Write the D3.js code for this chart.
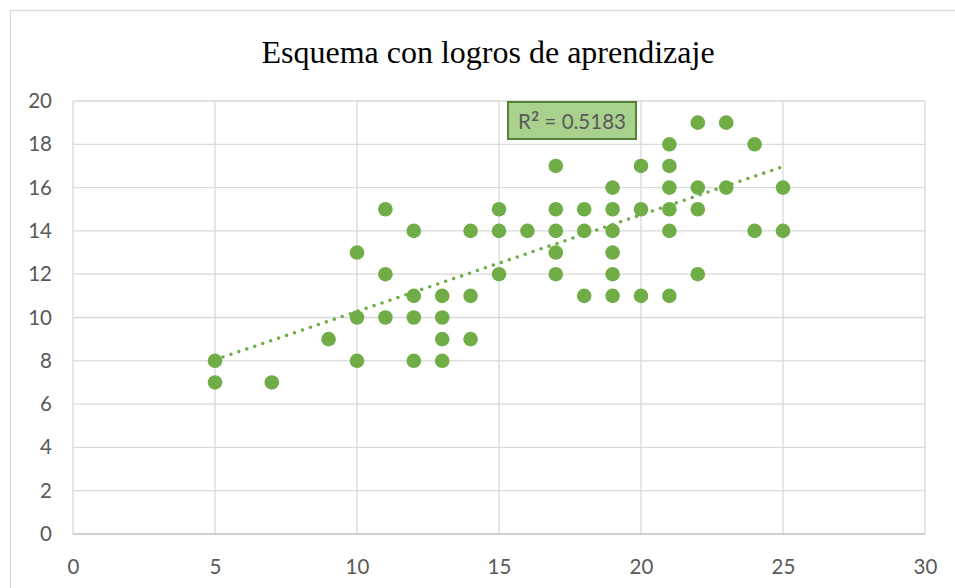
<!DOCTYPE html>
<html>
<head>
<meta charset="utf-8">
<script src="https://cdn.jsdelivr.net/npm/d3@7"></script>
<style>
  html, body { margin: 0; padding: 0; background: #fff; }
  svg { display: block; }
</style>
</head>
<body>
<svg id="chart" width="955" height="588"></svg>
<script>
// ---- Data ----
const title = "Esquema con logros de aprendizaje";
const xValues = [5,5,7,9,10,10,10,11,11,11,12,12,12,12,13,13,13,13,14,14,14,15,15,15,16,
                 17,17,17,17,17,18,18,18,19,19,19,19,19,19,20,20,20,21,21,21,21,21,21,
                 22,22,22,22,23,23,24,24,25,25];
const yValues = [8,7,7,9,13,10,8,15,12,10,14,11,10,8,11,10,9,8,14,11,9,15,14,12,14,
                 17,15,14,13,12,15,14,11,16,15,14,13,12,11,17,15,11,18,17,16,15,14,11,
                 19,16,15,12,19,16,18,14,16,14];
const trendX = [5, 25];
const trendY = [8.05, 16.97];
const xTicks = [0,5,10,15,20,25,30];
const yTicks = [0,2,4,6,8,10,12,14,16,18,20];
const r2Parts = ["R", "²", " = 0.5183"];

// ---- Layout ----
const svg = d3.select("#chart");
const plot = {left: 73, right: 925, top: 101, bottom: 534};
const x = d3.scaleLinear().domain([0,30]).range([plot.left, plot.right]);
const y = d3.scaleLinear().domain([0,20]).range([plot.bottom, plot.top]);
const green = "#70ad47";
const textCol = "#595959";
const tickFont = "Lato, 'Open Sans', sans-serif";

// outer chart border
svg.append("rect")
  .attr("x", 10.5).attr("y", 10.5).attr("width", 1000).attr("height", 700)
  .attr("fill", "#fff").attr("stroke", "#d9d9d9").attr("stroke-width", 1.3);

// title
svg.append("text")
  .attr("x", 488).attr("y", 63)
  .attr("text-anchor", "middle")
  .attr("font-family", "'Liberation Serif', 'Times New Roman', serif")
  .attr("font-size", 32)
  .attr("fill", "#000")
  .text(title);

// gridlines
const grid = svg.append("g");
grid.selectAll("line.h").data(yTicks.filter(d => d !== 0)).join("line")
  .attr("x1", plot.left).attr("x2", plot.right)
  .attr("y1", d => y(d)).attr("y2", d => y(d))
  .attr("stroke", "#d9d9d9").attr("stroke-width", 1.3);
grid.selectAll("line.v").data(xTicks).join("line")
  .attr("y1", plot.top).attr("y2", plot.bottom)
  .attr("x1", d => x(d)).attr("x2", d => x(d))
  .attr("stroke", "#d9d9d9").attr("stroke-width", 1.3);

// x axis line
svg.append("line")
  .attr("x1", plot.left).attr("x2", plot.right)
  .attr("y1", y(0)).attr("y2", y(0))
  .attr("stroke", "#bfbfbf").attr("stroke-width", 1.3);

// axes labels via d3 axes
const yAxis = d3.axisLeft(y).tickValues(yTicks).tickSize(0).tickPadding(21);
const gy = svg.append("g").attr("transform", `translate(${plot.left},0)`).call(yAxis);
gy.select(".domain").remove();
gy.selectAll("text").attr("font-family", tickFont).attr("font-size", 20.5).attr("fill", textCol);

const xAxis = d3.axisBottom(x).tickValues(xTicks).tickSize(0).tickPadding(25);
const gx = svg.append("g").attr("transform", `translate(0,${plot.bottom})`).call(xAxis);
gx.select(".domain").remove();
gx.selectAll("text").attr("font-family", tickFont).attr("font-size", 20.5).attr("fill", textCol);

// trendline (dotted)
const line = d3.line().x(d => x(d[0])).y(d => y(d[1]));
svg.append("path")
  .datum(trendX.map((v, i) => [v, trendY[i]]))
  .attr("d", line)
  .attr("fill", "none")
  .attr("stroke", green)
  .attr("stroke-width", 3.6)
  .attr("stroke-linecap", "round")
  .attr("stroke-dasharray", "0 8.4");

// points
svg.append("g").selectAll("circle")
  .data(xValues.map((v, i) => [v, yValues[i]]))
  .join("circle")
  .attr("cx", d => x(d[0])).attr("cy", d => y(d[1]))
  .attr("r", 7.3)
  .attr("fill", green);

// R² label box
const boxG = svg.append("g");
boxG.append("rect")
  .attr("x", 508).attr("y", 102).attr("width", 128).attr("height", 37)
  .attr("fill", "#a9d18e").attr("stroke", "#548235").attr("stroke-width", 2);
const r2Text = boxG.append("text")
  .attr("x", 572).attr("y", 128.5)
  .attr("text-anchor", "middle")
  .attr("font-family", tickFont).attr("font-size", 20.5)
  .attr("fill", textCol);
r2Text.selectAll("tspan").data(r2Parts).join("tspan")
  .attr("font-size", (d, i) => i === 1 ? 25 : 20.5)
  .attr("dy", (d, i) => i === 1 ? 3.5 : (i === 2 ? -3.5 : 0))
  .text(d => d);
</script>
</body>
</html>
